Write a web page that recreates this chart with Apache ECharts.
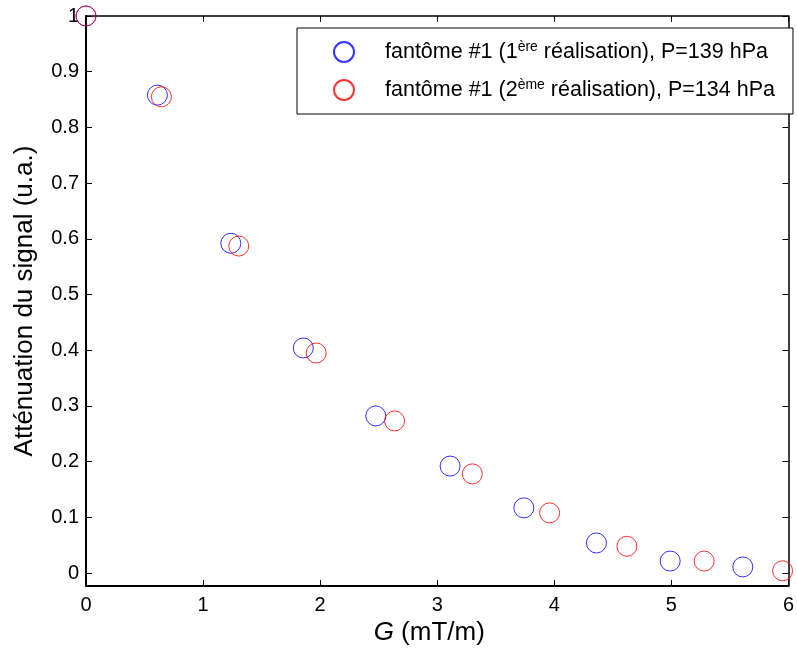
<!DOCTYPE html>
<html>
<head>
<meta charset="utf-8">
<script src="https://cdn.jsdelivr.net/npm/echarts@6/dist/echarts.min.js"></script>
<style>html,body{margin:0;padding:0;background:#fff}#c{width:797px;height:651px}</style>
</head>
<body>
<div id="c"></div>
<script>
const gradient1 = [0, 0.61, 1.237, 1.856, 2.475, 3.11, 3.74, 4.36, 4.99, 5.61];
const signal1   = [1.0, 0.858, 0.592, 0.404, 0.282, 0.192, 0.117, 0.054, 0.0215, 0.011];
const gradient2 = [0, 0.644, 1.305, 1.966, 2.636, 3.30, 3.96, 4.62, 5.28, 5.95];
const signal2   = [1.0, 0.855, 0.587, 0.395, 0.273, 0.178, 0.108, 0.048, 0.0215, 0.004];
const seriesNames = ['fantôme #1 (1{sup|ère} réalisation), P=139 hPa', 'fantôme #1 (2{sup|ème} réalisation), P=134 hPa'];

const font = 'Liberation Sans, Arial, Helvetica, sans-serif';
const chart = echarts.init(document.getElementById('c'));
function pts(xs, ys){ return xs.map((x,i)=>[x, ys[i]]); }
function common(w){ return {
  axisLine: {show: true, onZero: false, lineStyle: {color: '#000', width: w}},
  axisTick: {show: true, inside: true, length: 6, lineStyle: {color: '#000'}},
  splitLine: {show: false}
};}
chart.setOption({
  animation: false,
  backgroundColor: '#fff',
  grid: {left: 86, top: 16, right: 2, bottom: 65, show: false},
  xAxis: [
    Object.assign({type: 'value', min: 0, max: 6, interval: 1, position: 'bottom',
      axisLabel: {color: '#000', fontSize: 20, fontFamily: font, margin: 9},
      name: '{it|G} (mT/m)', nameLocation: 'middle', nameGap: 34,
      nameTextStyle: {color: '#000', fontSize: 26, fontFamily: font, padding: [0, 16, 0, 0],
        rich: {it: {fontStyle: 'italic', fontSize: 26, fontFamily: font, color: '#000'}}}
    }, common(2)),
    Object.assign({type: 'value', min: 0, max: 6, interval: 1, position: 'top', axisLabel: {show: false}}, common(1.5))
  ],
  yAxis: [
    Object.assign({type: 'value', min: -0.0233, max: 1, splitNumber: 10, position: 'left',
      axisLabel: {color: '#000', fontSize: 20, fontFamily: font, margin: 7, showMinLabel: false,
        formatter: v => (v < -0.001 ? '' : (Math.abs(v-1) < 1e-9 ? '1' : (Math.abs(v) < 1e-9 ? '0' : v.toFixed(1))))},
      name: 'Atténuation du signal (u.a.)', nameLocation: 'middle', nameGap: 48,
      nameTextStyle: {color: '#000', fontSize: 26, fontFamily: font}
    }, common(2)),
    Object.assign({type: 'value', min: -0.0233, max: 1, splitNumber: 10, position: 'right', axisLabel: {show: false}}, common(1.5))
  ],
  legend: {
    show: true,
    orient: 'vertical',
    left: 297, top: 28,
    padding: [12, 18, 13, 36],
    itemGap: 15,
    itemWidth: 20, itemHeight: 20,
    borderColor: '#000', borderWidth: 1, backgroundColor: '#fff',
    formatter: name => name,
    textStyle: {color: '#000', fontSize: 21.5, fontFamily: font, padding: [0, 0, 0, 26],
      rich: {sup: {fontSize: 14, fontFamily: font, color: '#000', padding: [0, 0, 10, 0]}}},
    data: seriesNames
  },
  series: [
    {name: seriesNames[0], type: 'scatter', data: pts(gradient1, signal1), symbol: 'circle', symbolSize: 20,
      itemStyle: {color: 'rgba(0,0,0,0)', borderColor: '#0000ff', borderWidth: 1}, clip: false},
    {name: seriesNames[1], type: 'scatter', data: pts(gradient2, signal2), symbol: 'circle', symbolSize: 20,
      itemStyle: {color: 'rgba(0,0,0,0)', borderColor: '#ff0000', borderWidth: 1}, clip: false}
  ]
});
</script>
</body>
</html>
